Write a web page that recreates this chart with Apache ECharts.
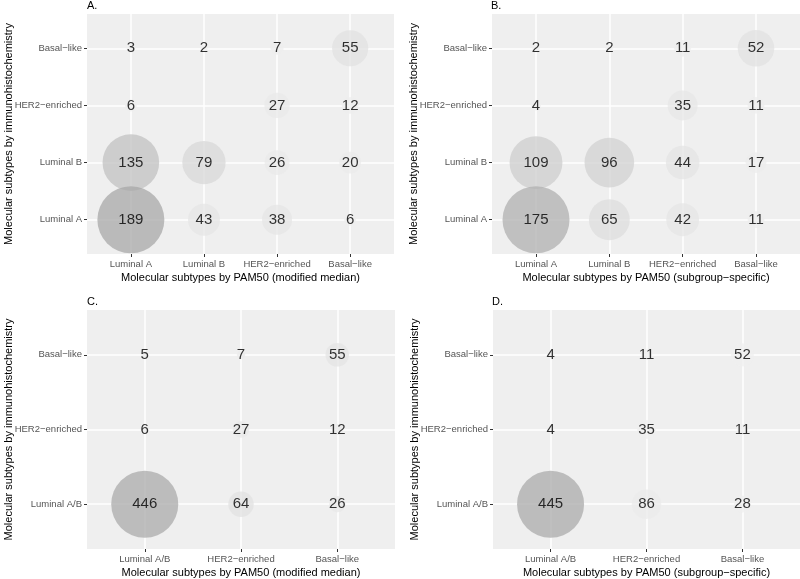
<!DOCTYPE html>
<html>
<head>
<meta charset="utf-8">
<script src="https://cdn.jsdelivr.net/npm/echarts@6/dist/echarts.min.js"></script>
<style>
html,body{margin:0;padding:0;background:#fff;}
#chart{width:800px;height:579px;}
</style>
</head>
<body>
<div id="chart"></div>
<script>
// ---- data ----
const pam50Cats4 = ['Luminal A', 'Luminal B', 'HER2\u2212enriched', 'Basal\u2212like'];
const pam50Cats3 = ['Luminal A/B', 'HER2\u2212enriched', 'Basal\u2212like'];
const ihcCats4 = ['Luminal A', 'Luminal B', 'HER2\u2212enriched', 'Basal\u2212like']; // bottom -> top
const ihcCats3 = ['Luminal A/B', 'HER2\u2212enriched', 'Basal\u2212like'];         // bottom -> top

// rows = IHC subtype (bottom -> top), columns = PAM50 subtype
const countsA = [
  [189, 43, 38, 6],
  [135, 79, 26, 20],
  [6, null, 27, 12],
  [3, 2, 7, 55]
];
const countsB = [
  [175, 65, 42, 11],
  [109, 96, 44, 17],
  [4, null, 35, 11],
  [2, 2, 11, 52]
];
const countsC = [
  [446, 64, 26],
  [6, 27, 12],
  [5, 7, 55]
];
const countsD = [
  [445, 86, 28],
  [4, 35, 11],
  [4, 11, 52]
];
const panelLabels = ['A.', 'B.', 'C.', 'D.'];
const xTitles = [
  'Molecular subtypes by PAM50 (modified median)',
  'Molecular subtypes by PAM50 (subgroup\u2212specific)',
  'Molecular subtypes by PAM50 (modified median)',
  'Molecular subtypes by PAM50 (subgroup\u2212specific)'
];
const yTitle = 'Molecular subtypes by immunohistochemistry';

// ---- layout / style ----
const FONT = "'Liberation Sans', Arial, Helvetica, sans-serif";
const BG = 239;
const panels = [
  {grid: {left: 87, top: 14, width: 307, height: 240}, xCats: pam50Cats4, yCats: ihcCats4, counts: countsA, hi: 173, v0: 0, g: 1.3, title: {left: 87, top: 0}},
  {grid: {left: 492, top: 14, width: 308, height: 240}, xCats: pam50Cats4, yCats: ihcCats4, counts: countsB, hi: 180, v0: 0, g: 1.3, title: {left: 491, top: 0}},
  {grid: {left: 87, top: 310, width: 308, height: 239}, xCats: pam50Cats3, yCats: ihcCats3, counts: countsC, hi: 176, v0: -24, g: 1, title: {left: 87, top: 296}},
  {grid: {left: 493, top: 310, width: 307, height: 239}, xCats: pam50Cats3, yCats: ihcCats3, counts: countsD, hi: 175, v0: 63, g: 1, title: {left: 492, top: 296}}
];
const MAXD = 67;

function grayFor(v, p, vmax) {
  let t = (v - p.v0) / (vmax - p.v0);
  t = Math.max(0, Math.min(1, t));
  t = Math.pow(t, p.g);
  const L = BG - (BG - p.hi) * t;
  const a = 0.93;
  let c = Math.round((L - (1 - a) * BG) / a);
  c = Math.max(0, Math.min(255, c));
  return 'rgba(' + c + ',' + c + ',' + c + ',' + a + ')';
}

const grids = [], xAxes = [], yAxes = [], series = [], titles = [];
panels.forEach((p, i) => {
  const nx = p.xCats.length, ny = p.yCats.length;
  const pts = [];
  for (let r = ny - 1; r >= 0; r--) {
    for (let c = 0; c < nx; c++) {
      const v = p.counts[r][c];
      if (v != null) pts.push([c + 1, r + 1, v]);
    }
  }
  const vmax = Math.max(...pts.map(d => d[2]));
  const xv = p.xCats.map((_, k) => k + 1);
  const yv = p.yCats.map((_, k) => k + 1);
  grids.push(Object.assign({show: true, backgroundColor: '#efefef', borderWidth: 0, containLabel: false, outerBoundsMode: 'none'}, p.grid));
  titles.push({text: panelLabels[i], left: p.title.left, top: p.title.top, padding: 0,
    textStyle: {fontSize: 11, fontWeight: 'normal', color: '#000', fontFamily: FONT}});
  xAxes.push({
    type: 'value', gridIndex: i, min: 0.4, max: nx + 0.6,
    axisLine: {show: false},
    axisTick: {show: true, customValues: xv, length: 3, lineStyle: {color: '#333', width: 1}},
    axisLabel: {customValues: xv, formatter: v => p.xCats[Math.round(v) - 1], fontSize: 9.5, color: '#555', margin: 5, fontFamily: FONT},
    splitLine: {show: true, lineStyle: {color: '#ffffff', width: 1.5}},
    name: xTitles[i], nameLocation: 'middle', nameGap: 18, nameMoveOverlap: false,
    nameTextStyle: {fontSize: 11, color: '#000', fontFamily: FONT}
  });
  yAxes.push({
    type: 'value', gridIndex: i, min: 0.4, max: ny + 0.6,
    axisLine: {show: false},
    axisTick: {show: true, customValues: yv, length: 3, lineStyle: {color: '#333', width: 1}},
    axisLabel: {customValues: yv, formatter: v => p.yCats[Math.round(v) - 1], fontSize: 9.5, color: '#555', margin: 5, fontFamily: FONT},
    splitLine: {show: true, lineStyle: {color: '#ffffff', width: 1.5}},
    name: yTitle, nameLocation: 'middle', nameGap: 73, nameRotate: 90, nameMoveOverlap: false,
    nameTextStyle: {fontSize: 11, color: '#000', fontFamily: FONT}
  });
  series.push({
    type: 'scatter', xAxisIndex: i, yAxisIndex: i, data: pts,
    symbol: 'circle',
    symbolSize: d => MAXD * Math.sqrt(d[2] / vmax),
    itemStyle: {color: prm => grayFor(prm.value[2], p, vmax)},
    label: {show: true, position: 'inside', formatter: prm => String(prm.value[2]),
      fontSize: 15, color: '#000', fontFamily: FONT},
    emphasis: {disabled: true},
    silent: true
  });
});

const chart = echarts.init(document.getElementById('chart'));
chart.setOption({
  animation: false,
  backgroundColor: '#ffffff',
  title: titles,
  grid: grids,
  xAxis: xAxes,
  yAxis: yAxes,
  series: series
});
</script>
</body>
</html>
